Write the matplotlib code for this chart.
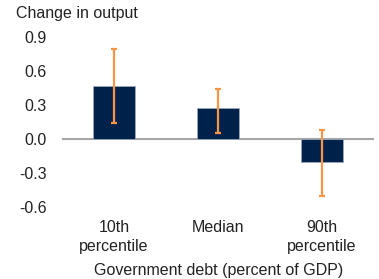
import matplotlib
matplotlib.use("Agg")
import matplotlib.pyplot as plt
import numpy as np

plt.rcParams['font.family'] = ['Liberation Sans', 'DejaVu Sans']

categories = ['10th\npercentile', 'Median', '90th\npercentile']
values = [0.47, 0.27, -0.20]
err_low = [0.14, 0.05, -0.50]
err_high = [0.79, 0.44, 0.08]
yticks = [-0.6, -0.3, 0.0, 0.3, 0.6, 0.9]

BAR = '#00224a'
ERR = '#f79646'
FS = 11.5

fig = plt.figure(figsize=(3.79, 2.79), dpi=100)
ax = fig.add_axes([62 / 379, 1 - 207 / 279, 312 / 379, 170 / 279])

x = np.arange(len(categories))
vals = np.array(values)
yerr = np.array([vals - np.array(err_low), np.array(err_high) - vals])
ax.bar(x, vals, 0.4, color=BAR, edgecolor='#9aa8b8', linewidth=0.6, zorder=2)
ax.errorbar(x, vals, yerr=yerr, fmt='none', ecolor=ERR, elinewidth=1.6,
            capsize=2.5, capthick=1.6, zorder=3)
ax.axhline(0, color='#a6a6a6', lw=1.5, zorder=1)

ax.set_xlim(-0.5, 2.5)
ax.set_ylim(-0.6, 0.9)
ax.set_yticks(yticks)
ax.set_yticklabels([f'{v:.1f}' for v in yticks], fontsize=FS, color='#222222')
ax.set_xticks(x)
ax.set_xticklabels(categories, fontsize=FS, color='#222222', linespacing=1.4)
ax.tick_params(axis='both', length=0)
ax.tick_params(axis='y', pad=11)
ax.tick_params(axis='x', pad=9)
for s in ax.spines.values():
    s.set_visible(False)

fig.text(16 / 379, 1 - 6 / 279, 'Change in output', fontsize=FS,
         ha='left', va='top', color='#222222')
fig.text(219 / 379, 1 - 271 / 279, 'Government debt (percent of GDP)',
         fontsize=FS, ha='center', va='center', color='#222222')

fig.savefig('out.png', dpi=100)
